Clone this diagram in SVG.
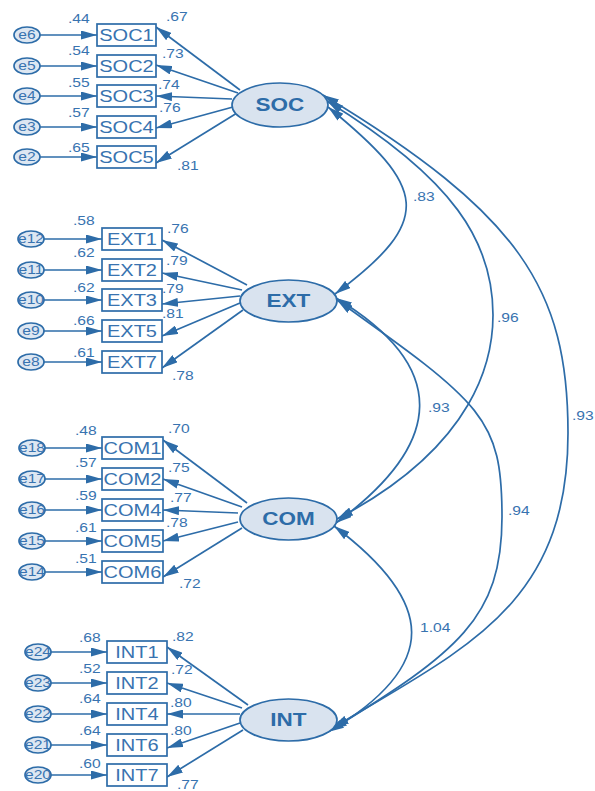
<svg xmlns="http://www.w3.org/2000/svg" width="595" height="791" viewBox="0 0 595 791">
<style>
  .ln{fill:none;stroke:#2d6ca8;stroke-width:1.7}
  .ar{marker-end:url(#ah)}
  .cv{marker-start:url(#ah);marker-end:url(#ah)}
  .err ellipse{fill:#dde7f2;stroke:#2d6ca8;stroke-width:1.7}
  .obs rect{fill:#fff;stroke:#2d6ca8;stroke-width:1.7}
  .lat ellipse{fill:#d9e3ef;stroke:#2d6ca8;stroke-width:1.7}
  text{font-family:"Liberation Sans",Arial,sans-serif;fill:#3873b0;transform-box:fill-box;transform:scaleX(1.25)}
  .n{font-size:12.5px;transform-origin:0 0}
  .e{font-size:12.5px;text-anchor:middle;transform-origin:50% 0}
  .b{font-size:16px;text-anchor:middle;transform-origin:50% 0}
  .l{font-size:18px;font-weight:bold;text-anchor:middle;transform-origin:50% 0;fill:#2d6ca8}
</style>
<defs>
  <marker id="ah" viewBox="0 0 16 9" refX="16" refY="4.5" markerWidth="16" markerHeight="9" markerUnits="userSpaceOnUse" orient="auto-start-reverse">
    <path d="M0,0 L16,4.5 L0,9 z" fill="#2d6ca8"/>
  </marker>
</defs>
<rect width="595" height="791" fill="#fff"/>

<g id="connectors">
  <!-- error terms to indicators -->
  <path class="ln ar" d="M40,35 H97"/>
  <path class="ln ar" d="M40,66 H97"/>
  <path class="ln ar" d="M40,96 H97"/>
  <path class="ln ar" d="M40,127 H97"/>
  <path class="ln ar" d="M40,157 H97"/>
  <path class="ln ar" d="M44,239 H102"/>
  <path class="ln ar" d="M44,270 H102"/>
  <path class="ln ar" d="M44,300 H102"/>
  <path class="ln ar" d="M44,331 H102"/>
  <path class="ln ar" d="M44,362 H102"/>
  <path class="ln ar" d="M45,448 H102"/>
  <path class="ln ar" d="M45,479 H102"/>
  <path class="ln ar" d="M45,510 H102"/>
  <path class="ln ar" d="M45,541 H102"/>
  <path class="ln ar" d="M45,572 H102"/>
  <path class="ln ar" d="M51,652 H107"/>
  <path class="ln ar" d="M51,683 H107"/>
  <path class="ln ar" d="M51,714 H107"/>
  <path class="ln ar" d="M51,745 H107"/>
  <path class="ln ar" d="M51,775 H107"/>

  <!-- factor loadings -->
  <path class="ln ar" d="M240,90 L156,27"/>
  <path class="ln ar" d="M238,93 L156,65"/>
  <path class="ln ar" d="M232,99 L156,96"/>
  <path class="ln ar" d="M233,107 L156,128"/>
  <path class="ln ar" d="M237,113 L156,163"/>
  <path class="ln ar" d="M247,285 L162,240"/>
  <path class="ln ar" d="M242,290 L162,273"/>
  <path class="ln ar" d="M240,296 L162,304"/>
  <path class="ln ar" d="M240,303 L162,336"/>
  <path class="ln ar" d="M243,310 L162,368"/>
  <path class="ln ar" d="M247,503 L163,440"/>
  <path class="ln ar" d="M242,507 L163,479"/>
  <path class="ln ar" d="M238,513 L163,510"/>
  <path class="ln ar" d="M238,522 L163,541"/>
  <path class="ln ar" d="M242,528 L163,577"/>
  <path class="ln ar" d="M248,705 L167,647"/>
  <path class="ln ar" d="M242,708 L167,683"/>
  <path class="ln ar" d="M240,714 L167,714"/>
  <path class="ln ar" d="M240,723 L167,748"/>
  <path class="ln ar" d="M243,730 L167,777"/>

  <text class="n" x="166" y="21">.67</text>
  <text class="n" x="162" y="58">.73</text>
  <text class="n" x="158" y="89">.74</text>
  <text class="n" x="159" y="112">.76</text>
  <text class="n" x="177" y="170">.81</text>
  <text class="n" x="167" y="233">.76</text>
  <text class="n" x="166" y="265">.79</text>
  <text class="n" x="162" y="293">.79</text>
  <text class="n" x="162" y="318">.81</text>
  <text class="n" x="172" y="380">.78</text>
  <text class="n" x="168" y="433">.70</text>
  <text class="n" x="168" y="472">.75</text>
  <text class="n" x="170" y="502">.77</text>
  <text class="n" x="166" y="527">.78</text>
  <text class="n" x="179" y="588">.72</text>
  <text class="n" x="172" y="641">.82</text>
  <text class="n" x="171" y="674">.72</text>
  <text class="n" x="170" y="707">.80</text>
  <text class="n" x="170" y="735">.80</text>
  <text class="n" x="177" y="789">.77</text>

  <!-- factor covariances -->
  <path class="ln cv" d="M328,107 C426,187 436,219 335,294"/>
  <path class="ln cv" d="M327,101 C454,179 493,242 493,315 C493,357 478,445 337,519"/>
  <path class="ln cv" d="M323,95 C520,214 568,289 568,433 C568,607 463,649 333,728"/>
  <path class="ln cv" d="M336,298 C450,367 445,443 336,523"/>
  <path class="ln cv" d="M337,300 C483,404 502,418 502,517 C502,618 458,652 331,730"/>
  <path class="ln cv" d="M334,526 C435,602 442,665 328,732"/>

  <text class="n" x="413" y="201">.83</text>
  <text class="n" x="497" y="322">.96</text>
  <text class="n" x="572" y="420">.93</text>
  <text class="n" x="428" y="412">.93</text>
  <text class="n" x="508" y="515">.94</text>
  <text class="n" x="420" y="632">1.04</text>
</g>

<!-- SOC block -->
<g id="e6" class="err"><ellipse cx="27" cy="35" rx="13" ry="8"/><text class="e" x="27" y="39.5">e6</text></g>
<g id="e5" class="err"><ellipse cx="27" cy="66" rx="13" ry="8"/><text class="e" x="27" y="70.5">e5</text></g>
<g id="e4" class="err"><ellipse cx="27" cy="96" rx="13" ry="8"/><text class="e" x="27" y="100.5">e4</text></g>
<g id="e3" class="err"><ellipse cx="27" cy="127" rx="13" ry="8"/><text class="e" x="27" y="131.5">e3</text></g>
<g id="e2" class="err"><ellipse cx="27" cy="157" rx="13" ry="8"/><text class="e" x="27" y="161.5">e2</text></g>
<g id="SOC1" class="obs"><rect x="97" y="24" width="59" height="22"/><text class="b" x="126.5" y="40.7">SOC1</text><text class="n" x="68" y="23">.44</text></g>
<g id="SOC2" class="obs"><rect x="97" y="55" width="59" height="22"/><text class="b" x="126.5" y="71.7">SOC2</text><text class="n" x="68" y="55">.54</text></g>
<g id="SOC3" class="obs"><rect x="97" y="85" width="59" height="22"/><text class="b" x="126.5" y="101.7">SOC3</text><text class="n" x="68" y="87">.55</text></g>
<g id="SOC4" class="obs"><rect x="97" y="116" width="59" height="22"/><text class="b" x="126.5" y="132.7">SOC4</text><text class="n" x="68" y="117">.57</text></g>
<g id="SOC5" class="obs"><rect x="97" y="146" width="59" height="22"/><text class="b" x="126.5" y="162.7">SOC5</text><text class="n" x="68" y="152">.65</text></g>
<g id="SOC" class="lat"><ellipse cx="280" cy="105" rx="48" ry="22"/><text class="l" x="280" y="111.5">SOC</text></g>

<!-- EXT block -->
<g id="e12" class="err"><ellipse cx="31" cy="239" rx="13" ry="8"/><text class="e" x="31" y="243.5">e12</text></g>
<g id="e11" class="err"><ellipse cx="31" cy="270" rx="13" ry="8"/><text class="e" x="31" y="274.5">e11</text></g>
<g id="e10" class="err"><ellipse cx="31" cy="300" rx="13" ry="8"/><text class="e" x="31" y="304.5">e10</text></g>
<g id="e9" class="err"><ellipse cx="31" cy="331" rx="13" ry="8"/><text class="e" x="31" y="335.5">e9</text></g>
<g id="e8" class="err"><ellipse cx="31" cy="362" rx="13" ry="8"/><text class="e" x="31" y="366.5">e8</text></g>
<g id="EXT1" class="obs"><rect x="102" y="228" width="60" height="22"/><text class="b" x="132" y="244.7">EXT1</text><text class="n" x="73" y="225">.58</text></g>
<g id="EXT2" class="obs"><rect x="102" y="259" width="60" height="22"/><text class="b" x="132" y="275.7">EXT2</text><text class="n" x="73" y="257">.62</text></g>
<g id="EXT3" class="obs"><rect x="102" y="289" width="60" height="22"/><text class="b" x="132" y="305.7">EXT3</text><text class="n" x="73" y="292">.62</text></g>
<g id="EXT5" class="obs"><rect x="102" y="320" width="60" height="22"/><text class="b" x="132" y="336.7">EXT5</text><text class="n" x="73" y="325">.66</text></g>
<g id="EXT7" class="obs"><rect x="102" y="351" width="60" height="22"/><text class="b" x="132" y="367.7">EXT7</text><text class="n" x="73" y="357">.61</text></g>
<g id="EXT" class="lat"><ellipse cx="288.5" cy="301" rx="48.5" ry="21"/><text class="l" x="288.5" y="307.5">EXT</text></g>

<!-- COM block -->
<g id="e18" class="err"><ellipse cx="32" cy="448" rx="13" ry="8"/><text class="e" x="32" y="452.5">e18</text></g>
<g id="e17" class="err"><ellipse cx="32" cy="479" rx="13" ry="8"/><text class="e" x="32" y="483.5">e17</text></g>
<g id="e16" class="err"><ellipse cx="32" cy="510" rx="13" ry="8"/><text class="e" x="32" y="514.5">e16</text></g>
<g id="e15" class="err"><ellipse cx="32" cy="541" rx="13" ry="8"/><text class="e" x="32" y="545.5">e15</text></g>
<g id="e14" class="err"><ellipse cx="32" cy="572" rx="13" ry="8"/><text class="e" x="32" y="576.5">e14</text></g>
<g id="COM1" class="obs"><rect x="102" y="437" width="61" height="22"/><text class="b" x="132.5" y="453.7">COM1</text><text class="n" x="75" y="435">.48</text></g>
<g id="COM2" class="obs"><rect x="102" y="468" width="61" height="22"/><text class="b" x="132.5" y="484.7">COM2</text><text class="n" x="75" y="467">.57</text></g>
<g id="COM4" class="obs"><rect x="102" y="499" width="61" height="22"/><text class="b" x="132.5" y="515.7">COM4</text><text class="n" x="75" y="500">.59</text></g>
<g id="COM5" class="obs"><rect x="102" y="530" width="61" height="22"/><text class="b" x="132.5" y="546.7">COM5</text><text class="n" x="75" y="532">.61</text></g>
<g id="COM6" class="obs"><rect x="102" y="561" width="61" height="22"/><text class="b" x="132.5" y="577.7">COM6</text><text class="n" x="75" y="563">.51</text></g>
<g id="COM" class="lat"><ellipse cx="288.5" cy="519" rx="48.5" ry="21"/><text class="l" x="288.5" y="525.5">COM</text></g>

<!-- INT block -->
<g id="e24" class="err"><ellipse cx="38" cy="652" rx="13" ry="8"/><text class="e" x="38" y="656.5">e24</text></g>
<g id="e23" class="err"><ellipse cx="38" cy="683" rx="13" ry="8"/><text class="e" x="38" y="687.5">e23</text></g>
<g id="e22" class="err"><ellipse cx="38" cy="714" rx="13" ry="8"/><text class="e" x="38" y="718.5">e22</text></g>
<g id="e21" class="err"><ellipse cx="38" cy="745" rx="13" ry="8"/><text class="e" x="38" y="749.5">e21</text></g>
<g id="e20" class="err"><ellipse cx="38" cy="775" rx="13" ry="8"/><text class="e" x="38" y="779.5">e20</text></g>
<g id="INT1" class="obs"><rect x="107" y="641" width="60" height="22"/><text class="b" x="137" y="657.7">INT1</text><text class="n" x="79" y="642">.68</text></g>
<g id="INT2" class="obs"><rect x="107" y="672" width="60" height="22"/><text class="b" x="137" y="688.7">INT2</text><text class="n" x="79" y="673">.52</text></g>
<g id="INT4" class="obs"><rect x="107" y="703" width="60" height="22"/><text class="b" x="137" y="719.7">INT4</text><text class="n" x="79" y="703">.64</text></g>
<g id="INT6" class="obs"><rect x="107" y="734" width="60" height="22"/><text class="b" x="137" y="750.7">INT6</text><text class="n" x="79" y="735">.64</text></g>
<g id="INT7" class="obs"><rect x="107" y="764" width="60" height="22"/><text class="b" x="137" y="780.7">INT7</text><text class="n" x="79" y="768">.60</text></g>
<g id="INT" class="lat"><ellipse cx="288.5" cy="720" rx="48.5" ry="21"/><text class="l" x="288.5" y="726.5">INT</text></g>
</svg>
